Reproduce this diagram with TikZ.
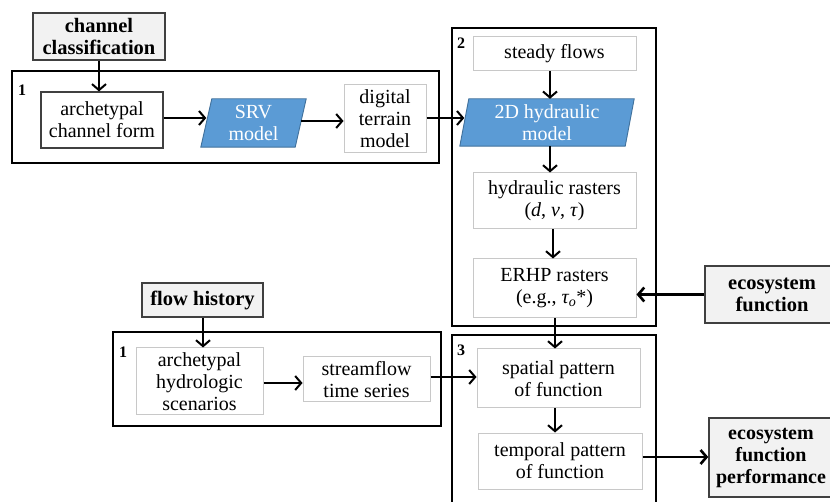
\documentclass[tikz,border=0pt]{standalone}
\usepackage{fontspec}
\setmainfont{Liberation Serif}
\usetikzlibrary{arrows.meta,backgrounds}
\definecolor{boxgray}{HTML}{F2F2F2}
\definecolor{boxline}{HTML}{404040}
\definecolor{thinline}{HTML}{C8C8C8}
\definecolor{bluefill}{HTML}{5B9BD5}
\definecolor{blueline}{HTML}{41719C}
\newcommand{\txt}{\fontsize{20}{22}\selectfont}
\newcommand{\btxt}{\fontsize{20.5}{22}\selectfont}
\tikzset{
  frame/.style={draw=black,line width=2.4pt,inner sep=0pt},
  inbox/.style={draw=thinline,line width=1pt,fill=white,align=center,inner sep=0pt,font=\txt},
  darkbox/.style={inbox,draw=boxline,line width=1.2pt},
  inputbox/.style={draw=boxline,fill=boxgray,line width=1.5pt,align=center,inner sep=0pt,font=\bfseries\btxt},
  para/.style={inner sep=0pt,align=center,text=white,font=\txt},
  parashape/.style={draw=blueline,fill=bluefill,line width=0.9pt},
  numlab/.style={font=\bfseries\fontsize{16}{16}\selectfont,inner sep=0pt},
  arr/.style={-{Straight Barb[length=6pt,width=14pt]},line width=2pt},
  thickarr/.style={arr,line width=2.6pt}
}
\begin{document}
\begin{tikzpicture}[x=1pt,y=-1pt]
\useasboundingbox (0,0) rectangle (830,502);
% frames
\node[frame,minimum width=427pt,minimum height=92pt] (f1) at (225.5,117) {};
\node[frame,minimum width=204pt,minimum height=298pt] (f2) at (554,177) {};
\node[frame,minimum width=328pt,minimum height=94pt] (f1b) at (277,379) {};
\node[frame,minimum width=204pt,minimum height=175pt] (f3) at (554,422.5) {};
\node[numlab,anchor=west] (n1) at (18,90) {1};
\node[numlab,anchor=west] (n2) at (457,43) {2};
\node[numlab,anchor=west] (n1b) at (119,352) {1};
\node[numlab,anchor=west] (n3) at (457,350) {3};
% inputs
\node[inputbox,minimum width=132pt,minimum height=47pt] (cc) at (99,36.5) {channel\\classification};
\node[inputbox,minimum width=121pt,minimum height=34pt] (fh) at (202.5,300) {flow history};
\node[inputbox,minimum width=134pt,minimum height=57pt] (ef) at (772,294.5) {ecosystem\\function};
\node[inputbox,minimum width=124pt,minimum height=79pt,font=\bfseries\fontsize{20}{22}\selectfont] (efp) at (771,457.5) {ecosystem\\function\\performance};
% row 1
\node[darkbox,minimum width=122pt,minimum height=56pt] (acf) at (102,120) {archetypal\\channel form};
\node[para,minimum width=105pt,minimum height=48pt] (srv) at (253.5,123) {SRV\\model};
\node[inbox,minimum width=82pt,minimum height=68pt] (dtm) at (385,119) {digital\\terrain\\model};
% box 2
\node[inbox,minimum width=163pt,minimum height=34pt] (sf) at (554.5,54) {steady flows};
\node[para,minimum width=174pt,minimum height=47pt] (hm) at (547,122.5) {2D hydraulic\\model};
\node[inbox,minimum width=163pt,minimum height=56pt] (hr) at (554.5,201) {hydraulic rasters\\(\textit{d}, \textit{v}, \textit{τ})};
\node[inbox,minimum width=163pt,minimum height=59pt] (erhp) at (554.5,288.5) {ERHP rasters\\(e.g., \textit{τ\textsubscript{o}}*)};
% lower row
\node[inbox,minimum width=127pt,minimum height=67pt] (ahs) at (199.5,381.5) {archetypal\\hydrologic\\scenarios};
\node[inbox,minimum width=127pt,minimum height=45pt] (sts) at (366.5,379.5) {streamflow\\time series};
% box 3
\node[inbox,minimum width=163pt,minimum height=59pt] (spf) at (558.5,378.5) {spatial pattern\\of function};
\node[inbox,minimum width=164pt,minimum height=56pt] (tpf) at (560,461) {temporal pattern\\of function};
% parallelograms
\begin{scope}[on background layer]
\draw[parashape] ([xshift=11pt]srv.north west) -- (srv.north east) -- ([xshift=-11pt]srv.south east) -- (srv.south west) -- cycle;
\draw[parashape] ([xshift=9pt]hm.north west) -- (hm.north east) -- ([xshift=-9pt]hm.south east) -- (hm.south west) -- cycle;
\end{scope}
\coordinate (srvL) at ([xshift=5.5pt]srv.west);
\coordinate (srvR) at ([xshift=-5.5pt]srv.east);
\coordinate (hmL) at ([xshift=4.5pt]hm.west);
% arrows
\draw[arr] (cc.south -| 99,0) -- (acf.north -| 99,0);
\draw[arr] (acf.east |- 0,118) -- (srvL |- 0,118);
\draw[arr] (srvR |- 0,121) -- (dtm.west |- 0,121);
\draw[arr] (dtm.east |- 0,118) -- (hmL |- 0,118);
\draw[arr] (sf.south -| 550,0) -- (hm.north -| 550,0);
\draw[arr] (hm.south -| 550,0) -- (hr.north -| 550,0);
\draw[arr] (hr.south -| 553,0) -- (erhp.north -| 553,0);
\draw[thickarr] (ef.west) -- (erhp.east |- ef.west);
\draw[arr] (erhp.south -| 555,0) -- (spf.north -| 555,0);
\draw[arr] (spf.south -| 555,0) -- (tpf.north -| 555,0);
\draw[arr] (fh.south -| 203,0) -- (ahs.north -| 203,0);
\draw[arr] (ahs.east |- 0,383) -- (sts.west |- 0,383);
\draw[arr] (sts.east |- 0,377) -- (spf.west |- 0,377);
\draw[thickarr] (tpf.east |- 0,457) -- (efp.west |- 0,457);
\end{tikzpicture}
\end{document}
